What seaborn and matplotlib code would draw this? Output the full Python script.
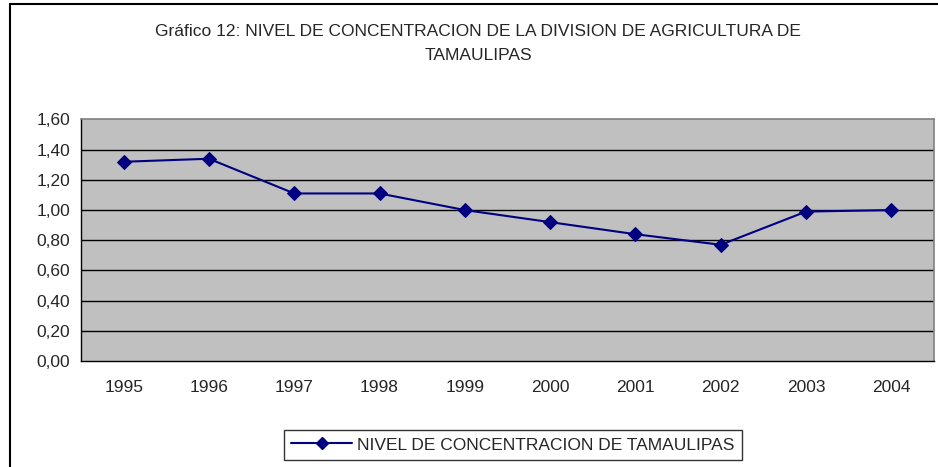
import matplotlib
matplotlib.use("Agg")
import matplotlib.pyplot as plt
import matplotlib.lines as mlines
import numpy as np
import pandas as pd
import seaborn as sns

# Data
years = ['1995', '1996', '1997', '1998', '1999', '2000', '2001', '2002', '2003', '2004']
nivel = [1.32, 1.34, 1.11, 1.11, 1.00, 0.92, 0.84, 0.77, 0.99, 1.00]
y_ticks = [0.0, 0.2, 0.4, 0.6, 0.8, 1.0, 1.2, 1.4, 1.6]
title_text = 'Gráfico 12: NIVEL DE CONCENTRACION DE LA DIVISION DE AGRICULTURA DE\nTAMAULIPAS'
legend_text = 'NIVEL DE CONCENTRACION DE TAMAULIPAS'

df = pd.DataFrame({'year': years, 'nivel': nivel})
df['pos'] = np.arange(len(years))

sns.set_style('white')
plt.rcParams['font.family'] = ['Liberation Sans', 'DejaVu Sans']

NAVY = '#000080'
FS = 12.5

fig = plt.figure(figsize=(9.38, 4.67), dpi=100)
ax = fig.add_axes([81 / 938, 1 - 361 / 467, (934 - 81) / 938, (361 - 119.5) / 467])
ax.set_facecolor('#C0C0C0')

sns.lineplot(data=df, x='pos', y='nivel', ax=ax, color=NAVY, linewidth=1.5,
             marker='D', markersize=7, markeredgecolor=NAVY, markerfacecolor=NAVY,
             legend=False, zorder=3)

ax.set_xlim(-0.5, len(years) - 0.5)
ax.set_ylim(0, 1.6)
ax.set_yticks(y_ticks)
ax.set_yticklabels([f'{v:.2f}'.replace('.', ',') for v in y_ticks], fontsize=FS)
ax.set_xticks(df['pos'])
ax.set_xticklabels(years, fontsize=FS)
ax.set_xticks(np.arange(-0.5, len(years)), minor=True)
ax.tick_params(axis='x', which='major', length=0, pad=14)
ax.tick_params(axis='x', which='minor', length=5, width=1, color='black', direction='out')
ax.tick_params(axis='y', length=5, width=1, color='black', direction='out', pad=3)
ax.set_xlabel('')
ax.set_ylabel('')

for v in y_ticks[1:-1]:
    ax.axhline(v, color='black', linewidth=1, zorder=1)

for side in ['top', 'right']:
    ax.spines[side].set_color('#808080')
    ax.spines[side].set_linewidth(1.2)
for side in ['left', 'bottom']:
    ax.spines[side].set_color('black')
    ax.spines[side].set_linewidth(1)

fig.text(478 / 938, 1 - 43 / 467, title_text, ha='center', va='center',
         fontsize=FS, linespacing=1.75)

handle = mlines.Line2D([], [], color=NAVY, linewidth=1.5, marker='D', markersize=6,
                       markerfacecolor=NAVY, markeredgecolor=NAVY)
leg = fig.legend([handle], [legend_text], loc='center', bbox_to_anchor=(513 / 938, 1 - 445 / 467),
                 fontsize=FS, frameon=True, fancybox=False, edgecolor='black',
                 handlelength=3.5, handletextpad=0.3, borderpad=0.4)
leg.get_frame().set_linewidth(1)

# outer chart border (left and top visible)
fig.add_artist(mlines.Line2D([9.5 / 938, 9.5 / 938], [0, 1 - 3.5 / 467], color='black', linewidth=1.5,
                             transform=fig.transFigure))
fig.add_artist(mlines.Line2D([9.5 / 938, 1], [1 - 3.5 / 467, 1 - 3.5 / 467], color='black', linewidth=1.5,
                             transform=fig.transFigure))

fig.savefig('out.png', dpi=100)
